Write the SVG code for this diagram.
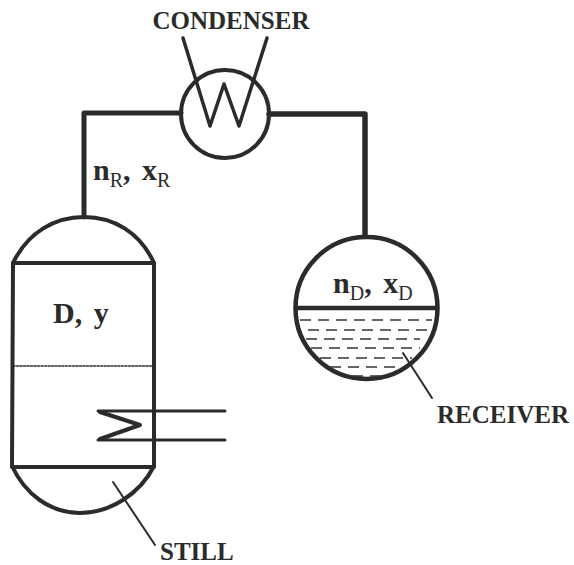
<svg xmlns="http://www.w3.org/2000/svg" width="574" height="565" viewBox="0 0 574 565">
<style>
text{font-family:"Liberation Serif","Times New Roman",serif;font-weight:bold;fill:#2b2b2b}
.l{font-size:25px}
.v{font-size:30px}
.s{font-size:20px;font-weight:normal}
.o{fill:none;stroke:#2b2b2b;stroke-linecap:round;stroke-linejoin:round}
.d{fill:none;stroke:#333;stroke-width:1.5;stroke-dasharray:11 7}
</style>
<rect width="574" height="565" fill="#fff"/>
<g id="connectors">
<path class="o" stroke-width="5" d="M84 217V113H181"/>
<path class="o" stroke-width="5.5" d="M269 114H365V234"/>
</g>
<g id="condenser">
<circle class="o" cx="225" cy="114" r="44" stroke-width="4"/>
<path class="o" stroke-width="3.5" d="M183 38L210 126L224 84L239 126L267 38"/>
<text class="l" x="231" y="29" text-anchor="middle">CONDENSER</text>
</g>
<g id="still">
<path class="o" stroke-width="4" d="M13 263C28 232 55 217 84 217C113 217 140 232 154 263V466C140 494 110 513 80 513C50 513 25 494 12 466Z"/>
<path class="o" stroke-width="4" d="M13 263H154M12 467H154"/>
<path class="o" stroke-width="1.5" stroke-dasharray="2 1.5" d="M13 366H154"/>
<path class="o" stroke-width="3" d="M98 411H225M98 440H225"/>
<path class="o" stroke-width="4" d="M100 412L140 425L100 439"/>
<path class="o" stroke-width="2" d="M113 482L155 545"/>
<text class="v" x="53" y="323" word-spacing="4">D, y</text>
<text x="93" y="180" class="v" word-spacing="4">n<tspan class="s" dy="7">R</tspan><tspan dy="-7">, x</tspan><tspan class="s" dy="7">R</tspan></text>
<text class="l" x="160" y="560">STILL</text>
</g>
<g id="receiver">
<circle class="o" cx="366.5" cy="308" r="71" stroke-width="4.5"/>
<path class="o" stroke-width="4.5" d="M297 308H437"/>
<path class="d" d="M300 320H432"/>
<path class="d" d="M308 330H428"/>
<path class="d" stroke-width="1.2" d="M306 339H420"/>
<path class="d" d="M311 348H420"/>
<path class="d" d="M320 358H412"/>
<path class="d" stroke-width="1.2" d="M330 367H400"/>
<path class="d" d="M352 376H384"/>
<path class="o" stroke-width="2" d="M403 353L432 398"/>
<text x="333" y="293" class="v" word-spacing="4">n<tspan class="s" dy="7">D</tspan><tspan dy="-7">, x</tspan><tspan class="s" dy="7">D</tspan></text>
<text class="l" x="437" y="423">RECEIVER</text>
</g>
</svg>
